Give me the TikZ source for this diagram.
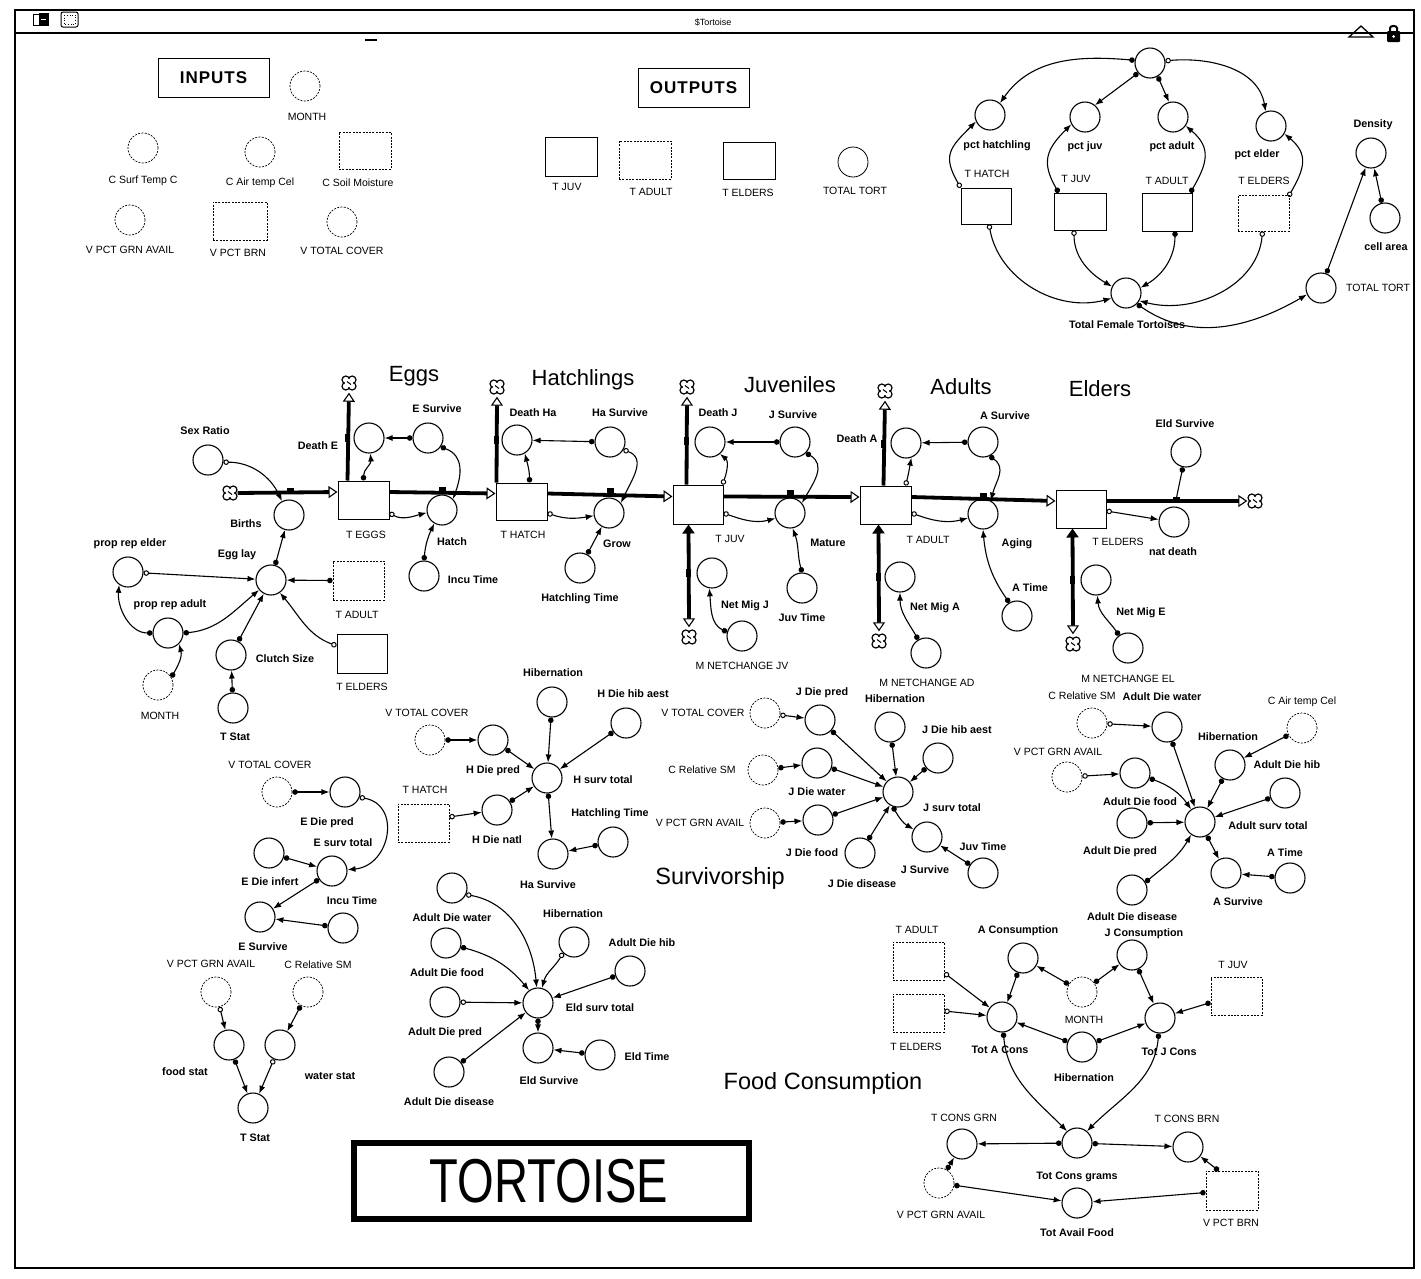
\documentclass[tikz,border=0pt]{standalone}
\usepackage{fontspec}
\setmainfont{Liberation Sans}
\usetikzlibrary{arrows.meta,calc}
\newcommand\lblfont{\bfseries\fontsize{10.8}{13}\selectfont}
\newcommand\capfont{\fontsize{10.5}{12}\selectfont}
\newcommand\ttlfont{\fontsize{22}{26}\selectfont}
\newcommand\bigttl{\fontsize{23.5}{28}\selectfont}
\newcommand\hdrfont{\bfseries\fontsize{17}{20}\selectfont\addfontfeatures{LetterSpace=6}}
\newcommand\torfont{\fontsize{62}{66}\selectfont}
\begin{document}
\begin{tikzpicture}[x=1pt,y=-1pt,
  aux/.style={circle,draw,line width=1.1pt,minimum size=30pt,inner sep=0pt},
  ghost/.style={circle,draw,line width=0.7pt,dash pattern=on 2pt off 1.3pt,minimum size=30pt,inner sep=0pt},
  stock/.style={rectangle,draw,line width=1pt,minimum width=51pt,minimum height=38pt,inner sep=0pt},
  tstock/.style={stock,line width=0.7pt},
  gstock/.style={stock,line width=0.7pt,dash pattern=on 2pt off 1.3pt},
  lbl/.style={font=\lblfont,inner sep=0pt},
  capl/.style={font=\capfont,inner sep=0pt},
  ttl/.style={font=\ttlfont,inner sep=0pt},
  bttl/.style={font=\bigttl,inner sep=0pt},
  hdr/.style={draw,line width=1pt,font=\hdrfont,minimum width=111pt,minimum height=39pt,inner sep=0pt},
  lk/.style={line width=1.1pt,{Circle[length=5.5pt]}-{Latex[length=8pt,width=6pt]}},
  lko/.style={line width=1.1pt,{Circle[open,length=5.5pt,line width=1pt]}-{Latex[length=8pt,width=6pt]}},
  lkn/.style={line width=1.1pt,{Circle[length=5.5pt]}-},
  pipe/.style={line width=3.8pt},
  pout/.style={pipe,-{Triangle[open,length=9pt,width=12pt,line width=1.1pt]}},
  pbi/.style={pipe,{Triangle[open,length=9pt,width=12pt,line width=1.1pt]}-{Triangle[length=9pt,width=12pt]}},
  valve/.style={fill,rectangle,minimum width=7pt,minimum height=6pt,inner sep=0pt},
  vvalve/.style={valve,minimum width=5pt,minimum height=8pt},
  cldn/.style={circle,minimum size=15pt,inner sep=0pt},
]
\useasboundingbox (0,0) rectangle (1421,1278);
\fill[white] (0,0) rectangle (1421,1278);

% ---------- window frame ----------
\draw[line width=1.3pt] (15,10) rectangle (1414,1268);
\draw[line width=1.3pt] (15,33) -- (1414,33);
\draw[line width=1pt] (33,14) rectangle (41,25);
\draw[line width=1pt,fill=black] (39,13) rectangle (48,25);
\draw[white,line width=1pt] (41,19) -- (46,19);
\draw[line width=1pt,rounded corners=2pt] (61,12) rectangle (78,27);
\draw[line width=0.6pt,dotted] (64,15) rectangle (75,24);
\node[font=\fontsize{9}{10}\selectfont,inner sep=0pt] (wtitle) at (713,22) {\$Tortoise};
\draw[line width=1.3pt] (1349,37) -- (1361,26) -- (1373,37) -- cycle;
\fill[rounded corners=1pt] (1387,31) rectangle (1400,42);
\draw[line width=2pt] (1390,32) -- (1390,28) to[out=90,in=90] (1397,28) -- (1397,32);
\fill[white] (1393.5,36.5) circle (1.5);
\draw[line width=1.3pt] (365,40) -- (377,40);

% ---------- INPUTS ----------
\node[hdr] (inputs) at (213.5,77.5) {INPUTS};
\node[ghost] (inMonth) at (305,86) {};
\node[capl] (inMonthL) at (307,117) {MONTH};
\node[ghost] (inCST) at (143,148) {};
\node[capl] (inCSTL) at (143,181) {C Surf Temp C};
\node[ghost] (inCAT) at (260,152) {};
\node[capl] (inCATL) at (260,183) {C Air temp Cel};
\node[gstock,minimum width=52pt,minimum height=37pt] (inCSM) at (365,150.5) {};
\node[capl] (inCSML) at (358,183) {C Soil Moisture};
\node[ghost] (inVPG) at (130,220) {};
\node[capl] (inVPGL) at (130,250) {V PCT GRN AVAIL};
\node[gstock,minimum width=54pt] (inVPB) at (240,221) {};
\node[capl] (inVPBL) at (238,253) {V PCT BRN};
\node[ghost] (inVTC) at (342,222) {};
\node[capl] (inVTCL) at (342,251) {V TOTAL COVER};

% ---------- OUTPUTS ----------
\node[hdr] (outputs) at (693.5,87.5) {OUTPUTS};
\node[tstock,minimum width=52pt,minimum height=39pt] (outTJ) at (571,156.5) {};
\node[capl] (outTJL) at (567,187) {T JUV};
\node[gstock,minimum width=52pt] (outTA) at (645,160) {};
\node[capl] (outTAL) at (651,192) {T ADULT};
\node[tstock,minimum width=52pt,minimum height=37pt] (outTE) at (749,160.5) {};
\node[capl] (outTEL) at (748,193) {T ELDERS};
\node[aux,line width=0.8pt] (outTT) at (853,162) {};
\node[capl] (outTTL) at (855,191) {TOTAL TORT};

% ---------- top right: totals ----------
\node[aux] (tc) at (1150,63) {};
\node[aux] (ph) at (990,115) {};
\node[lbl] (phL) at (997,146) {pct hatchling};
\node[aux] (pj) at (1085,117) {};
\node[lbl] (pjL) at (1085,147) {pct juv};
\node[aux] (pa) at (1173,117) {};
\node[lbl] (paL) at (1172,147) {pct adult};
\node[aux] (pe) at (1271,126) {};
\node[lbl] (peL) at (1257,155) {pct elder};
\node[aux] (den) at (1371,153) {};
\node[lbl] (denL) at (1373,125) {Density};
\node[aux] (ca) at (1385,218) {};
\node[lbl] (caL) at (1386,247) {cell area};
\node[tstock,minimum width=50pt,minimum height=36pt] (sTH) at (986,206) {};
\node[capl] (sTHL) at (987,174) {T HATCH};
\node[tstock,minimum width=52pt,minimum height=37pt] (sTJ) at (1080,211.5) {};
\node[capl] (sTJL) at (1076,179) {T JUV};
\node[tstock,minimum width=50pt,minimum height=38pt] (sTA) at (1167,212) {};
\node[capl] (sTAL) at (1167,181) {T ADULT};
\node[gstock,minimum width=51pt,minimum height=36pt] (sTE) at (1263.5,213) {};
\node[capl] (sTEL) at (1264,181) {T ELDERS};
\node[aux] (tft) at (1126,293) {};
\node[lbl] (tftL) at (1127,325) {Total Female Tortoises};
\node[aux] (tt2) at (1321,288) {};
\node[capl] (tt2L) at (1378,288) {TOTAL TORT};

\draw[lk] (tc.170) to[out=175,in=55] (ph.50);
\draw[lk] (tc.220) -- (pj.50);
\draw[lk] (tc.300) -- (pa.105);
\draw[lko] (tc.8) to[out=5,in=100] (pe.110);
\draw[lko] (sTH.north west) to[out=120,in=225,looseness=1.4] (ph.205);
\draw[lk] ([xshift=5pt]sTJ.north west) to[out=120,in=225,looseness=1.3] (pj.208);
\draw[lk] ([xshift=-2pt]sTA.north east) to[out=60,in=-40,looseness=1.3] (pa.-35);
\draw[lko] ([xshift=-1pt,yshift=-2pt]sTE.north east) to[out=60,in=-40,looseness=1.3] (pe.-30);
\draw[lko] ([xshift=3pt]sTH.south) to[out=-80,in=195] (tft.200);
\draw[lko] ([xshift=-6pt]sTJ.south) to[out=-90,in=150] (tft.155);
\draw[lk] ([xshift=8pt]sTA.south) to[out=-90,in=30] (tft.20);
\draw[lko] ([xshift=-1pt]sTE.south) to[out=-95,in=-15] (tft.-30);
\draw[lk] (tft.-45) to[out=-35,in=210] (tt2.205);
\draw[lk] (tt2) -- (den);
\draw[lk] (ca) -- (den);

% ---------- main chain: stocks, pipes, clouds ----------
\node[ttl] (tEggs) at (414,376) {Eggs};
\node[ttl] (tHatch) at (583,380) {Hatchlings};
\node[ttl] (tJuv) at (790,385) {Juveniles};
\node[ttl] (tAdult) at (961,387) {Adults};
\node[ttl] (tElder) at (1100,389) {Elders};

\node[stock] (sEggs) at (363.5,500) {};
\node[capl] (sEggsL) at (366,535) {T EGGS};
\node[stock,minimum height=37pt] (sHatch) at (521.5,501.5) {};
\node[capl] (sHatchL) at (523,535) {T HATCH};
\node[stock,minimum width=50pt,minimum height=39pt] (sJuv) at (698,504.5) {};
\node[capl] (sJuvL) at (730,539) {T JUV};
\node[stock,minimum width=51pt] (sAdult) at (885.5,505) {};
\node[capl] (sAdultL) at (928,540) {T ADULT};
\node[stock,minimum width=50pt] (sElders) at (1081,509) {};
\node[capl] (sEldersL) at (1118,542) {T ELDERS};

\node[cldn] (cl0) at (230,493) {};
\node[cldn] (clEnd) at (1255,501) {};
\node[cldn] (clDE) at (349,383) {};
\node[cldn] (clDH) at (497,387) {};
\node[cldn] (clDJ) at (687,387) {};
\node[cldn] (clDA) at (885,391) {};
\node[cldn] (clMJ) at (689,637) {};
\node[cldn] (clMA) at (879,641) {};
\node[cldn] (clME) at (1073,644) {};
\foreach \c in {cl0,clEnd,clDE,clDH,clDJ,clDA,clMJ,clMA,clME}{
  \draw[line width=1.2pt] ($(\c.center)+(3.2,3.2)$) circle (3.8)
                          ($(\c.center)+(-3.2,3.2)$) circle (3.8)
                          ($(\c.center)+(3.2,-3.2)$) circle (3.8)
                          ($(\c.center)+(-3.2,-3.2)$) circle (3.8);
  \fill[white] (\c.center) circle (4.3);
  \draw[line width=1pt] ($(\c.center)+(-2,-1.5)$) -- ($(\c.center)+(2,1.5)$);
}

\draw[pout] (cl0.east) -- ([yshift=8pt]sEggs.west);
\draw[pout] ([yshift=8pt]sEggs.east) -- ([yshift=8pt]sHatch.west);
\draw[pout] ([yshift=8pt]sHatch.east) -- ([yshift=8pt]sJuv.west);
\draw[pout] ([yshift=8pt]sJuv.east) -- ([yshift=8pt]sAdult.west);
\draw[pout] ([yshift=8pt]sAdult.east) -- ([yshift=8pt]sElders.west);
\draw[pout] ([yshift=8pt]sElders.east) -- (clEnd.west);
\draw[pout] ([xshift=10pt]sEggs.north west) -- ([yshift=-2pt]clDE.south);
\draw[pout] ([xshift=1pt]sHatch.north west) -- ([yshift=-2pt]clDH.south);
\draw[pout] ([xshift=14pt]sJuv.north west) -- ([yshift=-2pt]clDJ.south);
\draw[pout] ([xshift=24pt]sAdult.north west) -- ([yshift=-2pt]clDA.south);
\draw[pbi] ([yshift=2pt]clMJ.north) -- ([xshift=16pt]sJuv.south west);
\draw[pbi] ([yshift=2pt]clMA.north) -- ([xshift=19pt]sAdult.south west);
\draw[pbi] ([yshift=2pt]clME.north) -- ([xshift=17pt]sElders.south west);

\node[valve] (vBirths) at (290,491) {};
\node[valve] (vHatch) at (442,490) {};
\node[valve] (vGrow) at (610,491) {};
\node[valve] (vMature) at (790,493) {};
\node[valve] (vAging) at (983,496) {};
\node[valve] (vNat) at (1176,500) {};
\node[vvalve] (vDE) at (347,438) {};
\node[vvalve] (vDH) at (496,440) {};
\node[vvalve] (vDJ) at (686,441) {};
\node[vvalve] (vDA) at (883,444) {};
\node[vvalve] (vMJ) at (688,573) {};
\node[vvalve] (vMA) at (878,577) {};
\node[vvalve] (vME) at (1072,580) {};

% Eggs
\node[aux] (aBirths) at (289,515) {};
\node[lbl] (aBirthsL) at (246,524) {Births};
\node[aux] (aSex) at (208,460) {};
\node[lbl] (aSexL) at (205,431) {Sex Ratio};
\node[aux] (aDE) at (369,438) {};
\node[lbl] (aDEL) at (318,446) {Death E};
\node[aux] (aES) at (428,438) {};
\node[lbl] (aESL) at (437,409) {E Survive};
\node[aux] (aHatch) at (442,510) {};
\node[lbl] (aHatchL) at (452,542) {Hatch};
\node[aux] (aIncu) at (424,576) {};
\node[lbl] (aIncuL) at (473,580) {Incu Time};
\node[aux] (aEgg) at (271,580) {};
\node[lbl] (aEggL) at (237,555) {Egg lay};
\node[aux] (aPRE) at (128,572) {};
\node[lbl] (aPREL) at (130,544) {prop rep elder};
\node[aux] (aPRA) at (168,633) {};
\node[lbl] (aPRAL) at (170,605) {prop rep adult};
\node[ghost] (gMon1) at (158,685) {};
\node[capl] (gMon1L) at (160,716) {MONTH};
\node[aux] (aClutch) at (231,655) {};
\node[lbl] (aClutchL) at (285,659) {Clutch Size};
\node[aux] (aTStat1) at (233,708) {};
\node[lbl] (aTStat1L) at (235,737) {T Stat};
\node[gstock,minimum height=39pt] (gTA1) at (358.5,580.5) {};
\node[capl] (gTA1L) at (357,615) {T ADULT};
\node[stock,minimum width=50pt,minimum height=39pt] (gTE1) at (362,653.5) {};
\node[capl] (gTE1L) at (362,687) {T ELDERS};

\draw[lko] (aSex.-8) to[out=0,in=115] (aBirths.117);
\draw[lk] (aEgg) -- (aBirths);
\draw[lko] (aPRE) -- (aEgg);
\draw[lk] (aPRA.180) to[out=180,in=-95] (aPRE.235);
\draw[lk] (aPRA.0) to[out=5,in=220] (aEgg.220);
\draw[lk] (gMon1.30) to[out=60,in=-75] (aPRA.-45);
\draw[lk] (aClutch) -- (aEgg);
\draw[lk] (aTStat1) -- (aClutch);
\draw[lk] (gTA1.west) -- (aEgg);
\draw[lko] (gTE1.163) to[out=160,in=-50] (aEgg.-55);
\draw[lk] (aES) -- (aDE);
\draw[lk] (sEggs.north) to[out=90,in=-85] (aDE.-85);
\draw[lk] (aES.-35) to[out=-20,in=70,looseness=1.2] (aHatch.45);
\draw[lko] ([yshift=-13pt]sEggs.east) to[out=-30,in=195] (aHatch.190);
\draw[lk] (aIncu.north) to[out=85,in=-115] (aHatch.-120);

% Hatchlings
\node[aux] (aDH) at (517,440) {};
\node[lbl] (aDHL) at (533,413) {Death Ha};
\node[aux] (aHS) at (610,442) {};
\node[lbl] (aHSL) at (620,413) {Ha Survive};
\node[aux] (aGrow) at (609,513) {};
\node[lbl] (aGrowL) at (617,544) {Grow};
\node[aux] (aHT) at (580,568) {};
\node[lbl] (aHTL) at (580,599) {Hatchling Time};
\draw[lk] (aHS) -- (aDH);
\draw[lk] ([xshift=8pt]sHatch.north) to[out=90,in=-75] (aDH.-60);
\draw[lko] (aHS.-30) to[out=-20,in=65,looseness=1.2] (aGrow.40);
\draw[lko] ([yshift=-11.5pt]sHatch.east) to[out=-20,in=190] (aGrow.190);
\draw[lk] (aHT) -- (aGrow);

% Juveniles
\node[aux] (aDJ) at (710,442) {};
\node[lbl] (aDJL) at (718,413) {Death J};
\node[aux] (aJS) at (795,442) {};
\node[lbl] (aJSL) at (793,415) {J Survive};
\node[aux] (aMat) at (790,513) {};
\node[lbl] (aMatL) at (828,543) {Mature};
\node[aux] (aJT) at (802,588) {};
\node[lbl] (aJTL) at (802,618) {Juv Time};
\node[aux] (aNMJ) at (712,573) {};
\node[lbl] (aNMJL) at (745,606) {Net Mig J};
\node[aux] (aMNJ) at (742,636) {};
\node[capl] (aMNJL) at (742,666) {M NETCHANGE JV};
\draw[lk] (aJS) -- (aDJ);
\draw[lko] ([xshift=-1pt]sJuv.north east) to[out=70,in=-40] (aDJ.-50);
\draw[lk] (aJS.-45) to[out=-30,in=60,looseness=1.2] (aMat.40);
\draw[lko] ([yshift=-8.5pt]sJuv.east) to[out=-20,in=195] (aMat.200);
\draw[lk] (aJT.north) to[out=105,in=-70] (aMat.-80);
\draw[lk] (aMNJ.165) to[out=155,in=-85] (aNMJ.-100);

% Adults
\node[aux] (aDA) at (906,443) {};
\node[lbl] (aDAL) at (857,439) {Death A};
\node[aux] (aAS) at (983,442) {};
\node[lbl] (aASL) at (1005,416) {A Survive};
\node[aux] (aAging) at (983,514) {};
\node[lbl] (aAgingL) at (1017,544) {Aging};
\node[aux] (aAT) at (1017,616) {};
\node[lbl] (aATL) at (1030,588) {A Time};
\node[aux] (aNMA) at (900,577) {};
\node[lbl] (aNMAL) at (935,608) {Net Mig A};
\node[aux] (aMNA) at (926,653) {};
\node[capl] (aMNAL) at (927,683) {M NETCHANGE AD};
\draw[lk] (aAS) -- (aDA);
\draw[lko] ([xshift=20pt]sAdult.north) to[out=75,in=-100] (aDA.-70);
\draw[lk] (aAS.-65) to[out=-35,in=75,looseness=1.2] (aAging.60);
\draw[lko] ([yshift=-8pt]sAdult.east) to[out=-20,in=195] (aAging.195);
\draw[lk] (aAT.120) to[out=125,in=-85] (aAging.-90);
\draw[lk] (aMNA.120) to[out=120,in=-90] (aNMA.-90);

% Elders
\node[aux] (aND) at (1174,522) {};
\node[lbl] (aNDL) at (1173,552) {nat death};
\node[aux] (aEldS) at (1186,452) {};
\node[lbl] (aEldSL) at (1185,424) {Eld Survive};
\node[aux] (aNME) at (1096,580) {};
\node[lbl] (aNMEL) at (1141,613) {Net Mig E};
\node[aux] (aMNE) at (1128,648) {};
\node[capl] (aMNEL) at (1128,679) {M NETCHANGE EL};
\draw[lkn] (aEldS) -- (vNat);
\draw[lko] ([yshift=-2pt]sElders.east) -- (aND);
\draw[lk] (aMNE.125) to[out=125,in=-85] (aNME.-85);

% ---------- Survivorship ----------
\node[bttl] (tSurv) at (720,878) {Survivorship};

% E group
\node[ghost] (gVTC1) at (277,792) {};
\node[capl] (gVTC1L) at (270,765) {V TOTAL COVER};
\node[aux] (aEDP) at (345,792) {};
\node[lbl] (aEDPL) at (327,823) {E Die pred};
\node[aux] (aEST) at (332,871) {};
\node[lbl] (aESTL) at (343,843) {E surv total};
\node[aux] (aEDI) at (269,853) {};
\node[lbl] (aEDIL) at (270,882) {E Die infert};
\node[aux] (aESv) at (260,917) {};
\node[lbl] (aESvL) at (263,947) {E Survive};
\node[aux] (aIT2) at (343,928) {};
\node[lbl] (aIT2L) at (352,901) {Incu Time};
\draw[lk] (gVTC1) -- (aEDP);
\draw[lko] (aEDP.-20) to[out=-10,in=5,looseness=1.5] (aEST.5);
\draw[lk] (aEDI) -- (aEST);
\draw[lk] (aEST) -- (aESv);
\draw[lk] (aIT2) -- (aESv);

% T Stat group
\node[ghost] (gVPG1) at (216,992) {};
\node[capl] (gVPG1L) at (211,964) {V PCT GRN AVAIL};
\node[ghost] (gCRS1) at (308,992) {};
\node[capl] (gCRS1L) at (318,965) {C Relative SM};
\node[aux] (aFS) at (229,1045) {};
\node[lbl] (aFSL) at (185,1072) {food stat};
\node[aux] (aWS) at (280,1045) {};
\node[lbl] (aWSL) at (330,1076) {water stat};
\node[aux] (aTS2) at (253,1108) {};
\node[lbl] (aTS2L) at (255,1138) {T Stat};
\draw[lko] (gVPG1) -- (aFS);
\draw[lk] (gCRS1) -- (aWS);
\draw[lk] (aFS) -- (aTS2);
\draw[lko] (aWS) -- (aTS2);

% H group
\node[aux] (aHib1) at (552,702) {};
\node[lbl] (aHib1L) at (553,673) {Hibernation};
\node[aux] (aHDH) at (626,723) {};
\node[lbl] (aHDHL) at (633,694) {H Die hib aest};
\node[ghost] (gVTC2) at (430,740) {};
\node[capl] (gVTC2L) at (427,713) {V TOTAL COVER};
\node[aux] (aHDP) at (493,740) {};
\node[lbl] (aHDPL) at (493,771) {H Die pred};
\node[aux] (aHST) at (547,778) {};
\node[lbl] (aHSTL) at (603,780) {H surv total};
\node[gstock,minimum height=38pt] (gTH2) at (423.5,823) {};
\node[capl] (gTH2L) at (425,790) {T HATCH};
\node[aux] (aHDN) at (497,810) {};
\node[lbl] (aHDNL) at (497,840) {H Die natl};
\node[aux] (aHaS) at (553,854) {};
\node[lbl] (aHaSL) at (548,885) {Ha Survive};
\node[aux] (aHTm) at (613,842) {};
\node[lbl] (aHTmL) at (610,814) {Hatchling Time};
\draw[lk] (gVTC2) -- (aHDP);
\draw[lk] (aHDP) -- (aHST);
\draw[lk] (aHib1) -- (aHST);
\draw[lk] (aHDH) -- (aHST);
\draw[lko] ([yshift=6pt]gTH2.east) -- (aHDN);
\draw[lk] (aHDN) -- (aHST);
\draw[lk] (aHST) -- (aHaS);
\draw[lk] (aHTm) -- (aHaS);

% Eld group
\node[aux] (aADW) at (452,888) {};
\node[lbl] (aADWL) at (452,918) {Adult Die water};
\node[aux] (aADF) at (446,943) {};
\node[lbl] (aADFL) at (447,973) {Adult Die food};
\node[aux] (aADP) at (445,1002) {};
\node[lbl] (aADPL) at (445,1033) {Adult Die pred};
\node[aux] (aADD) at (449,1072) {};
\node[lbl] (aADDL) at (449,1102) {Adult Die disease};
\node[aux] (aHib2) at (574,942) {};
\node[lbl] (aHib2L) at (573,914) {Hibernation};
\node[aux] (aADH) at (630,971) {};
\node[lbl] (aADHL) at (642,943) {Adult Die hib};
\node[aux] (aEST2) at (538,1003) {};
\node[lbl] (aEST2L) at (600,1008) {Eld surv total};
\node[aux] (aEldS2) at (538,1048) {};
\node[lbl] (aEldS2L) at (549,1081) {Eld Survive};
\node[aux] (aEldT) at (600,1055) {};
\node[lbl] (aEldTL) at (647,1057) {Eld Time};
\draw[lko] (aADW.-25) to[out=-10,in=95] (aEST2.95);
\draw[lk] (aADF.-15) to[out=-15,in=130] (aEST2.125);
\draw[lko] (aADP) -- (aEST2);
\draw[lk] (aADD) -- (aEST2);
\draw[lko] (aHib2.-135) to[out=-120,in=75] (aEST2.75);
\draw[lk] (aADH) -- (aEST2);
\draw[lk] (aEST2) -- (aEldS2);
\draw[lk] (aEldT) -- (aEldS2);

% J group
\node[ghost] (gVTC3) at (765,713) {};
\node[capl] (gVTC3L) at (703,713) {V TOTAL COVER};
\node[aux] (aJDP) at (820,720) {};
\node[lbl] (aJDPL) at (822,693) {J Die pred};
\node[ghost] (gCRS3) at (763,770) {};
\node[capl] (gCRS3L) at (702,770) {C Relative SM};
\node[aux] (aJDW) at (817,763) {};
\node[lbl] (aJDWL) at (817,792) {J Die water};
\node[ghost] (gVPG3) at (765,823) {};
\node[capl] (gVPG3L) at (700,823) {V PCT GRN AVAIL};
\node[aux] (aJDF) at (818,820) {};
\node[lbl] (aJDFL) at (812,853) {J Die food};
\node[aux] (aHib3) at (890,727) {};
\node[lbl] (aHib3L) at (895,699) {Hibernation};
\node[aux] (aJDH) at (938,758) {};
\node[lbl] (aJDHL) at (957,730) {J Die hib aest};
\node[aux] (aJST) at (898,792) {};
\node[lbl] (aJSTL) at (952,808) {J surv total};
\node[aux] (aJDD) at (860,853) {};
\node[lbl] (aJDDL) at (862,884) {J Die disease};
\node[aux] (aJSv) at (927,837) {};
\node[lbl] (aJSvL) at (925,870) {J Survive};
\node[aux] (aJTm) at (983,873) {};
\node[lbl] (aJTmL) at (983,847) {Juv Time};
\draw[lko] (gVTC3) -- (aJDP);
\draw[lk] (gCRS3) -- (aJDW);
\draw[lk] (gVPG3) -- (aJDF);
\draw[lk] (aJDP) -- (aJST);
\draw[lk] (aJDW) -- (aJST);
\draw[lk] (aJDF) -- (aJST);
\draw[lk] (aHib3) -- (aJST);
\draw[lk] (aJDH) -- (aJST);
\draw[lk] (aJDD) -- (aJST);
\draw[lk] (aJST.-110) to[out=-60,in=150] (aJSv.150);
\draw[lk] (aJTm) -- (aJSv);

% Adult group
\node[ghost] (gCRS4) at (1092,723) {};
\node[capl] (gCRS4L) at (1082,696) {C Relative SM};
\node[aux] (aADW4) at (1167,727) {};
\node[lbl] (aADW4L) at (1162,697) {Adult Die water};
\node[ghost] (gVPG4) at (1067,777) {};
\node[capl] (gVPG4L) at (1058,752) {V PCT GRN AVAIL};
\node[aux] (aADF4) at (1135,773) {};
\node[lbl] (aADF4L) at (1140,802) {Adult Die food};
\node[ghost] (gCAT4) at (1302,728) {};
\node[capl] (gCAT4L) at (1302,702) {C Air temp Cel};
\node[aux] (aHib4) at (1230,765) {};
\node[lbl] (aHib4L) at (1228,737) {Hibernation};
\node[aux] (aADH4) at (1285,793) {};
\node[lbl] (aADH4L) at (1287,765) {Adult Die hib};
\node[aux] (aAST4) at (1200,822) {};
\node[lbl] (aAST4L) at (1268,826) {Adult surv total};
\node[aux] (aADP4) at (1132,823) {};
\node[lbl] (aADP4L) at (1120,852) {Adult Die pred};
\node[aux] (aADD4) at (1132,890) {};
\node[lbl] (aADD4L) at (1132,917) {Adult Die disease};
\node[aux] (aASv4) at (1226,873) {};
\node[lbl] (aASv4L) at (1238,902) {A Survive};
\node[aux] (aAT4) at (1290,878) {};
\node[lbl] (aAT4L) at (1285,853) {A Time};
\draw[lko] (gCRS4) -- (aADW4);
\draw[lko] (gVPG4) -- (aADF4);
\draw[lk] (gCAT4) -- (aHib4);
\draw[lk] (aADW4) -- (aAST4);
\draw[lk] (aADF4.-20) to[out=-20,in=125] (aAST4.125);
\draw[lk] (aADP4) -- (aAST4);
\draw[lk] (aADD4.30) to[out=40,in=-120] (aAST4.-125);
\draw[lk] (aHib4) -- (aAST4);
\draw[lk] (aADH4) -- (aAST4);
\draw[lk] (aAST4) -- (aASv4);
\draw[lk] (aAT4) -- (aASv4);

% ---------- Food consumption ----------
\node[bttl] (tFood) at (823,1083) {Food Consumption};
\node[gstock] (gTA5) at (918.5,961) {};
\node[capl] (gTA5L) at (917,930) {T ADULT};
\node[gstock] (gTE5) at (918.5,1013) {};
\node[capl] (gTE5L) at (916,1047) {T ELDERS};
\node[aux] (aAC) at (1023,958) {};
\node[lbl] (aACL) at (1018,931) {A Consumption};
\node[aux] (aJC) at (1132,955) {};
\node[lbl] (aJCL) at (1144,934) {J Consumption};
\node[ghost] (gMon5) at (1082,992) {};
\node[capl] (gMon5L) at (1084,1020) {MONTH};
\node[aux] (aTAC) at (1002,1017) {};
\node[lbl] (aTACL) at (1000,1050) {Tot A Cons};
\node[aux] (aHib5) at (1082,1047) {};
\node[lbl] (aHib5L) at (1084,1078) {Hibernation};
\node[aux] (aTJC) at (1160,1018) {};
\node[lbl] (aTJCL) at (1169,1052) {Tot J Cons};
\node[gstock] (gTJ5) at (1236.5,996.5) {};
\node[capl] (gTJ5L) at (1233,965) {T JUV};
\node[aux] (aTCG) at (1077,1143) {};
\node[lbl] (aTCGL) at (1077,1177) {Tot Cons grams};
\node[aux] (aCG) at (962,1144) {};
\node[capl] (aCGL) at (964,1118) {T CONS GRN};
\node[aux] (aCB) at (1188,1147) {};
\node[capl] (aCBL) at (1187,1119) {T CONS BRN};
\node[ghost] (gVPG5) at (939,1183) {};
\node[capl] (gVPG5L) at (941,1215) {V PCT GRN AVAIL};
\node[gstock,minimum width=52pt,minimum height=39pt] (gVPB5) at (1232,1190.5) {};
\node[capl] (gVPB5L) at (1231,1223) {V PCT BRN};
\node[aux] (aTAF) at (1077,1203) {};
\node[lbl] (aTAFL) at (1077,1233) {Tot Avail Food};
\draw[lko] ([yshift=-12pt]gTA5.east) -- (aTAC);
\draw[lko] ([yshift=2pt]gTE5.east) -- (aTAC);
\draw[lk] (aAC) -- (aTAC);
\draw[lk] (gMon5) -- (aAC);
\draw[lk] (gMon5) -- (aJC);
\draw[lk] (aJC) -- (aTJC);
\draw[lk] ([yshift=-6pt]gTJ5.west) -- (aTJC);
\draw[lk] (aHib5) -- (aTAC);
\draw[lk] (aHib5) -- (aTJC);
\draw[lk] (aTAC.-85) to[out=-85,in=135] (aTCG.130);
\draw[lk] (aTJC.-95) to[out=-95,in=45] (aTCG.50);
\draw[lk] (aTCG) -- (aCG);
\draw[lk] (aTCG) -- (aCB);
\draw[lk] (gVPG5) -- (aCG);
\draw[lk] ([xshift=13pt]gVPB5.north west) -- (aCB);
\draw[lk] (gVPG5) -- (aTAF);
\draw[lk] ([yshift=-2pt]gVPB5.west) -- (aTAF);

% ---------- TORTOISE box ----------
\node[draw,line width=6pt,minimum width=395pt,minimum height=76pt,inner sep=0pt] (torbox) at (551.5,1181) {};
\node[font=\torfont,xscale=0.76,inner sep=0pt] (tortxt) at (549,1181) {TORTOISE};

\end{tikzpicture}
\end{document}
